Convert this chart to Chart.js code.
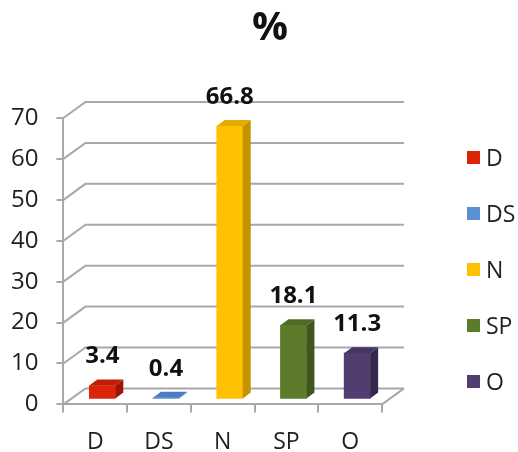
<!DOCTYPE html>
<html>
<head>
<meta charset="utf-8">
<script src="https://cdn.jsdelivr.net/npm/chart.js@4.4.0/dist/chart.umd.min.js"></script>
<style>
  html, body { margin: 0; padding: 0; background: #fff; }
</style>
</head>
<body>
<canvas id="chart" width="518" height="452"></canvas>
<script>
const categories = ['D', 'DS', 'N', 'SP', 'O'];
const values = [3.4, 0.4, 66.8, 18.1, 11.3];
const yTicks = [0, 10, 20, 30, 40, 50, 60, 70];
const titleText = '%';

// front / top / side of every bar
const frontColors = ['#dc2408', '#5b8fd3', '#ffc000', '#5c7c2b', '#523d70'];
const topColors   = ['#c41c04', '#4a7cc0', '#e6ab00', '#4f6b24', '#463462'];
const sideColors  = ['#9c1502', '#3b68a6', '#c49300', '#3f561c', '#36284c'];

const WALL = { dx: 22, dy: -16 };   // depth of the back wall
const SHIFT = { x: 7, y: -5 };      // bars sit a bit inside the floor
const BAR = { dx: 8, dy: -6 };      // depth of a bar
const TEXT = '#1f1f1f';
const LINE = '#a8a8a8';

const threeD = {
    id: 'threeD',
    beforeDatasetsDraw(chart) {
        const { ctx, chartArea: a, scales: { y } } = chart;
        ctx.save();
        ctx.strokeStyle = LINE;
        ctx.lineWidth = 2;
        yTicks.forEach(v => {
            const py = y.getPixelForValue(v);
            ctx.beginPath();
            ctx.moveTo(a.left, py);
            ctx.lineTo(a.left + WALL.dx, py + WALL.dy);
            ctx.lineTo(a.right + WALL.dx, py + WALL.dy);
            ctx.stroke();
        });
        // right edge of the floor
        ctx.beginPath();
        ctx.moveTo(a.right, a.bottom);
        ctx.lineTo(a.right + WALL.dx, a.bottom + WALL.dy);
        ctx.stroke();
        ctx.restore();

        ctx.save();
        ctx.translate(SHIFT.x, SHIFT.y);
    },
    afterDatasetsDraw(chart) {
        const { ctx } = chart;
        const meta = chart.getDatasetMeta(0);
        meta.data.forEach((bar, i) => {
            const { x, y, base, width } = bar.getProps(['x', 'y', 'base', 'width'], true);
            const l = x - width / 2, r = x + width / 2;
            ctx.fillStyle = sideColors[i];
            ctx.beginPath();
            ctx.moveTo(r, y);
            ctx.lineTo(r + BAR.dx, y + BAR.dy);
            ctx.lineTo(r + BAR.dx, base + BAR.dy);
            ctx.lineTo(r, base);
            ctx.closePath();
            ctx.fill();
            ctx.fillStyle = topColors[i];
            ctx.beginPath();
            ctx.moveTo(l, y);
            ctx.lineTo(l + BAR.dx, y + BAR.dy);
            ctx.lineTo(r + BAR.dx, y + BAR.dy);
            ctx.lineTo(r, y);
            ctx.closePath();
            ctx.fill();

            ctx.fillStyle = '#111';
            ctx.font = 'bold 24px "Open Sans", sans-serif';
            ctx.textAlign = 'center';
            ctx.textBaseline = 'middle';
            ctx.fillText(String(values[i]), x, y - 29);
        });
        ctx.restore();
    },
    afterDraw(chart) {
        const { ctx } = chart;
        ctx.save();
        // title
        ctx.fillStyle = '#111';
        ctx.font = 'bold 40px "Open Sans", sans-serif';
        ctx.textAlign = 'center';
        ctx.textBaseline = 'middle';
        ctx.fillText(titleText, 270, 29);
        // legend
        ctx.font = '23px "Open Sans", sans-serif';
        ctx.textAlign = 'left';
        categories.forEach((c, i) => {
            const cy = 158 + i * 56;
            ctx.fillStyle = frontColors[i];
            ctx.fillRect(467, cy - 7, 13, 13);
            ctx.fillStyle = TEXT;
            ctx.fillText(c, 486, cy + 1);
        });
        ctx.restore();
    }
};

Chart.defaults.font.family = '"Open Sans", sans-serif';

new Chart(document.getElementById('chart'), {
    type: 'bar',
    data: {
        labels: categories,
        datasets: [{
            data: values,
            backgroundColor: frontColors,
            borderWidth: 0,
            barThickness: 26
        }]
    },
    options: {
        responsive: false,
        animation: false,
        layout: { padding: { left: -7, right: 136, top: 118, bottom: -20 } },
        plugins: {
            legend: { display: false },
            title: { display: false },
            tooltip: { enabled: false }
        },
        scales: {
            x: {
                grid: { drawOnChartArea: false, drawTicks: true, tickLength: 8, color: LINE, lineWidth: 2 },
                border: { display: true, color: LINE, width: 2 },
                ticks: { color: TEXT, font: { size: 23 }, padding: 16 }
            },
            y: {
                min: 0,
                max: 70,
                afterBuildTicks(scale) { scale.ticks = yTicks.map(v => ({ value: v })); },
                grid: { drawOnChartArea: false, drawTicks: true, tickLength: 7, color: LINE, lineWidth: 2 },
                border: { display: true, color: LINE, width: 2 },
                ticks: { color: TEXT, font: { size: 24 }, padding: 18 }
            }
        }
    },
    plugins: [threeD]
});
</script>
</body>
</html>
